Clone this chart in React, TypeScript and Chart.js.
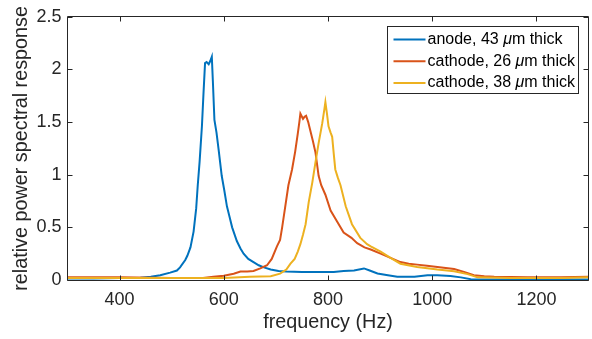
import { useEffect, useRef } from 'react';
import { Chart, registerables } from 'chart.js';

Chart.register(...registerables);

// ---------- data ----------
const xTicks = [400, 600, 800, 1000, 1200];
const yTicks = [0, 0.5, 1, 1.5, 2, 2.5];
const legendLabels = ['anode, 43 μm thick', 'cathode, 26 μm thick', 'cathode, 38 μm thick'];
const seriesColors = ['#0072BD', '#D95319', '#EDB120'];

const anodeFreq = [300, 350, 400, 440, 460, 478, 497, 510, 516, 526, 530, 536, 542, 547, 550, 553.5, 558, 561, 564, 567, 571, 574, 577, 579, 582, 586, 590, 596, 601, 606, 611, 616, 625, 632, 638, 647, 657, 667, 677, 690, 705, 720, 750, 780, 811, 830, 850, 869, 880, 895, 915, 933, 966, 991, 1010, 1035, 1055, 1074, 1100, 1200, 1300];
const anodeResp = [0.015, 0.015, 0.018, 0.022, 0.03, 0.046, 0.07, 0.09, 0.12, 0.19, 0.23, 0.31, 0.46, 0.68, 0.9, 1.12, 1.46, 1.77, 2.06, 2.07, 2.05, 2.08, 2.12, 1.89, 1.52, 1.4, 1.24, 0.99, 0.85, 0.7, 0.6, 0.5, 0.37, 0.3, 0.25, 0.2, 0.17, 0.14, 0.12, 0.1, 0.085, 0.08, 0.077, 0.075, 0.077, 0.085, 0.09, 0.11, 0.09, 0.062, 0.045, 0.031, 0.03, 0.046, 0.045, 0.037, 0.025, 0.008, 0.004, 0.004, 0.005];

const cathode26Freq = [300, 400, 500, 560, 580, 600, 619, 632, 645, 657, 670, 683, 692, 702, 708, 712, 718, 724, 731, 737, 742, 745, 747, 750, 752, 755, 758, 762, 766, 771, 776, 782, 787, 795, 805, 818, 830, 845, 856, 870, 882, 901, 920, 939, 955, 971, 990, 1010, 1042, 1061, 1080, 1100, 1119, 1183, 1247, 1300];
const cathode26Resp = [0.025, 0.025, 0.02, 0.02, 0.03, 0.04, 0.06, 0.08, 0.08, 0.085, 0.11, 0.14, 0.2, 0.32, 0.38, 0.5, 0.7, 0.9, 1.05, 1.22, 1.39, 1.5, 1.58, 1.55, 1.53, 1.55, 1.56, 1.5, 1.42, 1.32, 1.21, 0.99, 0.9, 0.81, 0.66, 0.55, 0.45, 0.4, 0.35, 0.31, 0.29, 0.25, 0.21, 0.17, 0.155, 0.146, 0.135, 0.124, 0.105, 0.077, 0.046, 0.035, 0.031, 0.025, 0.025, 0.03];

const cathode38Freq = [300, 400, 500, 600, 650, 690, 708, 720, 728, 736, 742, 747, 752, 757, 763, 770, 776, 782, 789, 793, 795, 798, 801, 805, 808, 811, 814, 819, 824, 834, 846, 862, 875, 882, 901, 920, 939, 971, 1010, 1042, 1068, 1087, 1150, 1250, 1300];
const cathode38Resp = [0.02, 0.02, 0.02, 0.02, 0.03, 0.035, 0.06, 0.1, 0.155, 0.2, 0.27, 0.34, 0.43, 0.53, 0.74, 0.93, 1.12, 1.3, 1.49, 1.62, 1.69, 1.58, 1.46, 1.4, 1.36, 1.2, 1.05, 0.97, 0.9, 0.7, 0.53, 0.4, 0.34, 0.32, 0.27, 0.21, 0.155, 0.124, 0.1, 0.084, 0.056, 0.025, 0.02, 0.02, 0.025];

const xLabel = 'frequency (Hz)';
const yLabel = 'relative power spectral response';

const FONT = '"Liberation Sans", Arial, Helvetica, sans-serif';
const INK = '#262626';

const toPoints = (xs: number[], ys: number[]) => xs.map((x, i) => ({ x, y: ys[i] }));

// MATLAB-like box with inward ticks
const boxPlugin = {
  id: 'matlabBox',
  afterDatasetsDraw(chart: any) {
    const { ctx, chartArea } = chart;
    const xs = chart.scales.x;
    const ys = chart.scales.y;
    const l = Math.floor(chartArea.left) + 0.5;
    const r = Math.floor(chartArea.right) + 0.5;
    const t = Math.floor(chartArea.top) + 0.5;
    const b = Math.floor(chartArea.bottom) + 0.5;
    const tl = 5;
    ctx.save();
    ctx.strokeStyle = INK;
    ctx.lineWidth = 1;
    ctx.beginPath();
    ctx.rect(l, t, r - l, b - t);
    xTicks.forEach((v) => {
      const px = Math.round(xs.getPixelForValue(v)) + 0.5;
      ctx.moveTo(px, b);
      ctx.lineTo(px, b - tl);
      ctx.moveTo(px, t);
      ctx.lineTo(px, t + tl);
    });
    yTicks.forEach((v) => {
      const py = Math.round(ys.getPixelForValue(v)) + 0.5;
      ctx.moveTo(l, py);
      ctx.lineTo(l + tl, py);
      ctx.moveTo(r, py);
      ctx.lineTo(r - tl, py);
    });
    ctx.stroke();
    ctx.restore();
  },
};

// Legend with italic mu, like MATLAB TeX
const legendPlugin = {
  id: 'matlabLegend',
  afterDraw(chart: any) {
    const { ctx, chartArea } = chart;
    const boxR = Math.floor(chartArea.right) - 10 + 0.5;
    const boxT = Math.floor(chartArea.top) + 10 + 0.5;
    const boxW = 191;
    const boxH = 67;
    const boxL = boxR - boxW;
    ctx.save();
    ctx.fillStyle = '#ffffff';
    ctx.fillRect(boxL, boxT, boxW, boxH);
    ctx.strokeStyle = INK;
    ctx.lineWidth = 1;
    ctx.strokeRect(boxL, boxT, boxW, boxH);
    const rowH = 21.7;
    const normal = `16px ${FONT}`;
    const italic = `italic 16px ${FONT}`;
    ctx.textBaseline = 'middle';
    legendLabels.forEach((label, i) => {
      const cy = boxT + 13 + i * rowH;
      ctx.strokeStyle = seriesColors[i];
      ctx.lineWidth = 2;
      ctx.beginPath();
      ctx.moveTo(boxL + 6, cy);
      ctx.lineTo(boxL + 38, cy);
      ctx.stroke();
      let x = boxL + 40;
      ctx.fillStyle = '#000000';
      const parts = label.split('μ');
      parts.forEach((p, j) => {
        if (j > 0) {
          ctx.font = italic;
          ctx.fillText('μ', x, cy);
          x += ctx.measureText('μ').width;
        }
        ctx.font = normal;
        ctx.fillText(p, x, cy);
        x += ctx.measureText(p).width;
      });
    });
    ctx.restore();
  },
};

export default function App() {
  const ref = useRef<HTMLCanvasElement | null>(null);

  useEffect(() => {
    document.body.style.margin = '0';
    const canvas = ref.current;
    if (!canvas) return;
    const chart = new Chart(canvas, {
      type: 'line',
      data: {
        datasets: [
          { label: legendLabels[0], data: toPoints(anodeFreq, anodeResp), borderColor: seriesColors[0], order: 3 },
          { label: legendLabels[1], data: toPoints(cathode26Freq, cathode26Resp), borderColor: seriesColors[1], order: 2 },
          { label: legendLabels[2], data: toPoints(cathode38Freq, cathode38Resp), borderColor: seriesColors[2], order: 1 },
        ],
      },
      options: {
        responsive: false,
        animation: false,
        devicePixelRatio: 1,
        events: [],
        layout: { padding: { top: 11, right: 3.5, left: 0, bottom: 0 } },
        elements: {
          line: { borderWidth: 2, tension: 0, fill: false },
          point: { radius: 0 },
        },
        plugins: {
          legend: { display: false },
          tooltip: { enabled: false },
        },
        scales: {
          x: {
            type: 'linear',
            min: 300,
            max: 1300,
            grid: { display: false, drawTicks: false },
            border: { display: false },
            afterBuildTicks: (s: any) => {
              s.ticks = xTicks.map((v) => ({ value: v }));
            },
            afterFit: (s: any) => {
              s.height = 59;
            },
            ticks: {
              color: INK,
              font: { family: FONT, size: 18 },
              padding: 9,
              maxRotation: 0,
              autoSkip: false,
              callback: (v: any) => String(v),
            },
            title: {
              display: true,
              text: xLabel,
              color: INK,
              font: { family: FONT, size: 19.8 },
              padding: { top: 0, bottom: 4.5 },
            },
          },
          y: {
            type: 'linear',
            min: 0,
            max: 2.5,
            grid: { display: false, drawTicks: false },
            border: { display: false },
            afterBuildTicks: (s: any) => {
              s.ticks = yTicks.map((v) => ({ value: v }));
            },
            afterFit: (s: any) => {
              s.width = 67.5;
            },
            ticks: {
              color: INK,
              font: { family: FONT, size: 18 },
              padding: 6,
              autoSkip: false,
              callback: (v: any) => String(v),
            },
            title: {
              display: true,
              text: yLabel,
              color: INK,
              font: { family: FONT, size: 19.8 },
              padding: { top: 9.7, bottom: 0 },
            },
          },
        },
      },
      plugins: [boxPlugin, legendPlugin],
    } as any);
    return () => chart.destroy();
  }, []);

  return (
    <div style={{ width: 592, height: 339, position: 'relative' }}>
      <canvas ref={ref} width={592} height={339} />
    </div>
  );
}
